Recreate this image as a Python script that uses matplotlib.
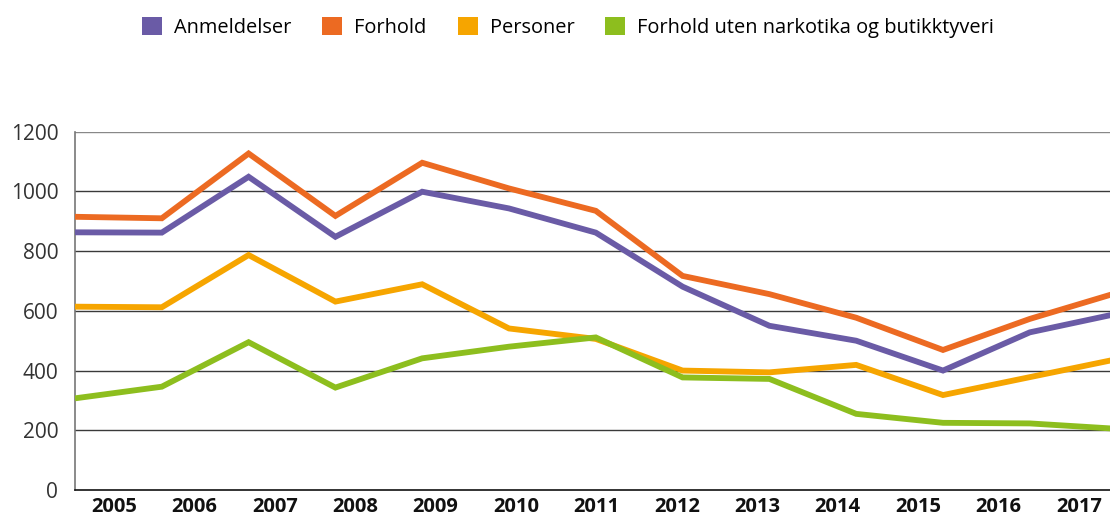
import matplotlib
matplotlib.use("Agg")
import matplotlib.pyplot as plt
from matplotlib.patches import Patch

years = ["2005", "2006", "2007", "2008", "2009", "2010", "2011",
         "2012", "2013", "2014", "2015", "2016", "2017"]
anmeldelser = [863, 862, 1049, 848, 999, 943, 862, 681, 550, 500, 400, 528, 590]
forhold = [915, 910, 1127, 918, 1096, 1010, 935, 717, 656, 577, 469, 573, 660]
personer = [614, 612, 787, 631, 689, 541, 506, 400, 394, 419, 318, 378, 438]
forhold_uten = [307, 346, 495, 343, 441, 480, 511, 377, 372, 255, 225, 223, 205]

series_names = ["Anmeldelser", "Forhold", "Personer",
                "Forhold uten narkotika og butikktyveri"]
colors = ["#6A5BA6", "#EC6A22", "#F6A500", "#8DBE1E"]
yticks = [0, 200, 400, 600, 800, 1000, 1200]

plt.rcParams['font.family'] = ['Open Sans', 'DejaVu Sans']

W, H = 1110, 524
fig = plt.figure(figsize=(W / 100, H / 100), dpi=100)
left_px, right_px, y0_px, ytop_px = 75, 1110, 490, 131.7
ax = fig.add_axes([left_px / W, (H - y0_px) / H,
                   (right_px - left_px) / W, (y0_px - ytop_px) / H])

x = list(range(len(years)))
for vals, c in zip([anmeldelser, forhold, personer, forhold_uten], colors):
    ax.plot(x, vals, color=c, lw=4.2, solid_joinstyle='miter',
            solid_capstyle='butt', clip_on=True, zorder=3)

step_px = 86.8
ax.set_xlim(0, (right_px - left_px) / step_px)
ax.set_ylim(0, 1200)
ax.set_yticks(yticks)
ax.set_yticklabels([str(v) for v in yticks], fontsize=15, color="#333333")
ax.tick_params(axis='y', length=0, pad=12)
for v in yticks[1:]:
    ax.axhline(v, color="#3a3a3a" if v < 1200 else "#888888", lw=1.0, zorder=1)

# category labels are spaced slightly differently from data points
label_pos = [(39 + 80.4 * i) / step_px for i in range(len(years))]
ax.set_xticks(label_pos)
ax.set_xticklabels(years, fontsize=14.5, fontweight='bold', color="#111111")
ax.tick_params(axis='x', length=0, pad=5)

for s in ['top', 'right']:
    ax.spines[s].set_visible(False)
ax.spines['left'].set_color("#777777")
ax.spines['left'].set_linewidth(1.2)
ax.spines['bottom'].set_color("#111111")
ax.spines['bottom'].set_linewidth(1.2)

handles = [Patch(facecolor=c, edgecolor='none') for c in colors]
fig.legend(handles, series_names, loc='upper center', ncol=4,
           bbox_to_anchor=(568 / W, 1.0 - 3 / H), frameon=False, fontsize=14.4,
           handlelength=1.0, handleheight=1.0, handletextpad=0.6,
           columnspacing=1.55, borderaxespad=0.3)

fig.savefig("out.png", dpi=100)
